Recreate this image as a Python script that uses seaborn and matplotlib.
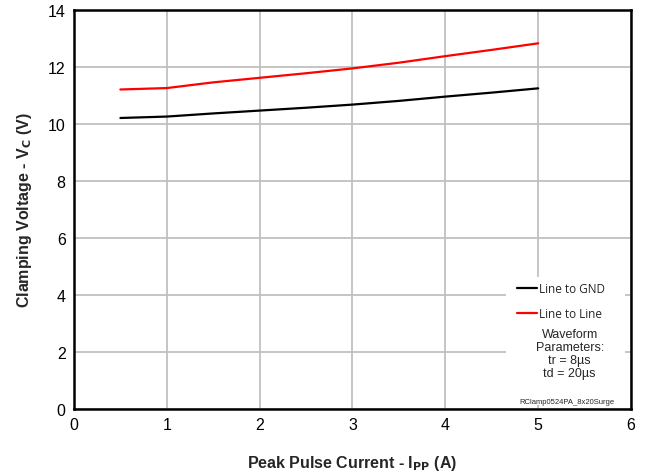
import numpy as np
import pandas as pd
import matplotlib
matplotlib.use("Agg")
import matplotlib.pyplot as plt
import seaborn as sns
from matplotlib.patches import Rectangle

current = [0.5, 1.0, 1.5, 2.0, 2.5, 3.0, 3.5, 4.0, 4.5, 5.0]
line_to_gnd = [10.21, 10.26, 10.37, 10.47, 10.57, 10.68, 10.81, 10.96, 11.10, 11.25]
line_to_line = [11.21, 11.26, 11.46, 11.62, 11.78, 11.95, 12.15, 12.38, 12.60, 12.83]
series_names = ["Line to GND", "Line to Line"]
series_colors = ["#000000", "#ff0000"]
x_ticks = [0, 1, 2, 3, 4, 5, 6]
y_ticks = [0, 2, 4, 6, 8, 10, 12, 14]

df = pd.DataFrame({
    "I": current * 2,
    "V": line_to_gnd + line_to_line,
    "series": [series_names[0]] * len(current) + [series_names[1]] * len(current),
})

sns.set_style("white")
plt.rcParams["font.family"] = ["Liberation Sans", "DejaVu Sans"]

fig = plt.figure(figsize=(6.5, 4.77), dpi=100)
ax = fig.add_axes([0.1138, 0.1405, 0.857, 0.8365])

sns.lineplot(data=df, x="I", y="V", hue="series", hue_order=series_names,
             palette=series_colors, linewidth=1.6, ax=ax, legend=False, zorder=3)

ax.set_xlim(0, 6)
ax.set_ylim(0, 14)
ax.set_xticks(x_ticks)
ax.set_yticks(y_ticks)
ax.tick_params(axis="both", labelsize=11.5, length=0, pad=6, colors="black")
ax.grid(True, color="#c0c0c0", linewidth=1.3, zorder=0)
ax.set_axisbelow(True)
for s in ax.spines.values():
    s.set_visible(True)
    s.set_color("black")
    s.set_linewidth(1.8)

ax.set_xlabel("Peak Pulse Current - I$_{\\mathbf{PP}}$ (A)", fontsize=11.5,
              fontweight="bold", labelpad=15)
ax.set_ylabel("Clamping Voltage - V$_{\\mathbf{C}}$ (V)", fontsize=11.5,
              fontweight="bold", labelpad=10)

# white box behind legend
ax.add_patch(Rectangle((0.775, 0.01), 0.215, 0.32, transform=ax.transAxes,
                       facecolor="white", edgecolor="none", zorder=2))

lf = ["Open Sans", "DejaVu Sans"]
handles = [plt.Line2D([0], [0], color=c, linewidth=1.6) for c in series_colors]
leg = ax.legend(handles, series_names, loc="upper left",
                bbox_to_anchor=(0.776, 0.345), frameon=False,
                handlelength=1.7, handletextpad=0.2, labelspacing=1.0,
                prop={"family": lf, "size": 8.5})
leg.set_zorder(4)

ax.text(0.890, 0.140, "Waveform\nParameters:\ntr = 8\u00b5s\ntd = 20\u00b5s",
        transform=ax.transAxes, ha="center", va="center", fontsize=9,
        linespacing=1.12, zorder=5)
ax.text(0.885, 0.01, "RClamp0524PA_8x20Surge", transform=ax.transAxes,
        ha="center", va="bottom", fontsize=5.5, zorder=5)

fig.savefig("out.png", dpi=100)
